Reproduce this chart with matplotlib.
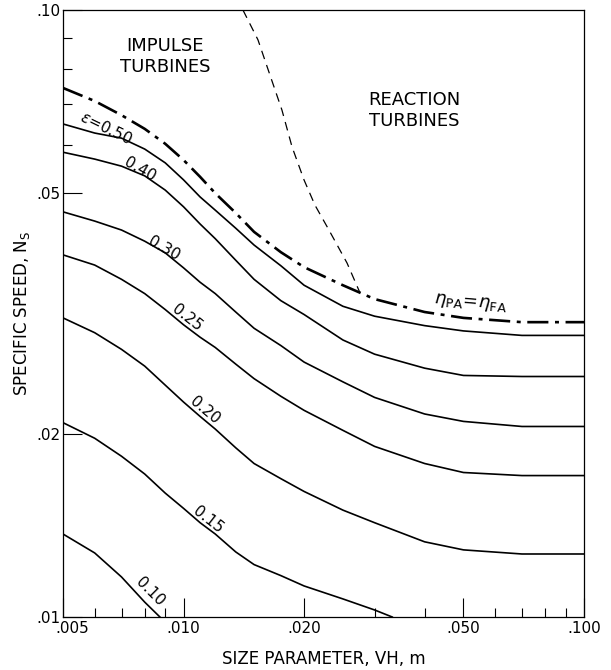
import matplotlib
matplotlib.use("Agg")
import matplotlib.pyplot as plt
from matplotlib.ticker import FixedLocator, NullFormatter
from matplotlib.transforms import ScaledTranslation

# size parameter VH (m) where the curves were read
vh = [0.005, 0.006, 0.007, 0.008, 0.009, 0.010, 0.011, 0.012, 0.0135, 0.015,
      0.0175, 0.020, 0.025, 0.030, 0.040, 0.050, 0.070, 0.100]

# specific speed Ns along each curve
ns_limit = [0.0744, 0.0708, 0.0671, 0.0637, 0.0602, 0.0566, 0.0531, 0.0499, 0.0463, 0.0431,
            0.0399, 0.0377, 0.0352, 0.0334, 0.0318, 0.0311, 0.0306, 0.0306]
ns_050 = [0.0649, 0.0627, 0.0615, 0.0590, 0.0560, 0.0525, 0.0492, 0.0468, 0.0437, 0.0410,
          0.0379, 0.0352, 0.0325, 0.0313, 0.0302, 0.0296, 0.0291, 0.0291]
ns_040 = [0.0583, 0.0568, 0.0553, 0.0533, 0.0505, 0.0474, 0.0444, 0.0420, 0.0387, 0.0360,
          0.0332, 0.0315, 0.0286, 0.0271, 0.0257, 0.0250, 0.0249, 0.0249]
ns_030 = [0.0465, 0.0449, 0.0434, 0.0416, 0.0398, 0.0376, 0.0356, 0.0341, 0.0318, 0.0299,
          0.0280, 0.0263, 0.0244, 0.0230, 0.0216, 0.0210, 0.0206, 0.0206]
ns_025 = [0.0395, 0.0380, 0.0360, 0.0341, 0.0321, 0.0303, 0.0289, 0.0278, 0.0261, 0.0247,
          0.0231, 0.0219, 0.0203, 0.0191, 0.0179, 0.0173, 0.0171, 0.0171]
ns_020 = [0.0311, 0.0294, 0.0276, 0.0259, 0.0241, 0.0226, 0.0214, 0.0204, 0.0190, 0.0179,
          0.0169, 0.0161, 0.0150, 0.0143, 0.0133, 0.0129, 0.0127, 0.0127]

# the two lowest curves run into the x axis
vh_015 = [0.005, 0.006, 0.007, 0.008, 0.009, 0.010, 0.011, 0.012, 0.0135, 0.015,
          0.0175, 0.020, 0.025, 0.030, 0.0332]
ns_015 = [0.0209, 0.0197, 0.0184, 0.0172, 0.0160, 0.0151, 0.0143, 0.0137, 0.0128, 0.0122,
          0.0117, 0.01125, 0.01071, 0.01027, 0.0100]
vh_010 = [0.005, 0.006, 0.007, 0.008, 0.00873]
ns_010 = [0.0137, 0.01275, 0.01164, 0.01058, 0.0100]

# impulse / reaction boundary (dashed)
vh_bound = [0.01407, 0.01534, 0.01644, 0.01761, 0.01866, 0.01999, 0.02129, 0.02294, 0.02560, 0.02758]
ns_bound = [0.1000, 0.0893, 0.0781, 0.0684, 0.0595, 0.0525, 0.0477, 0.0437, 0.0383, 0.0342]

xticks = [0.005, 0.010, 0.020, 0.050, 0.100]
xticklabels = ['.005', '.010', '.020', '.050', '.100']
xminor = [0.006, 0.007, 0.008, 0.009, 0.03, 0.04, 0.06, 0.07, 0.08, 0.09]
yticks = [0.01, 0.02, 0.05, 0.10]
yticklabels = ['.01', '.02', '.05', '.10']
yminor = [0.06, 0.07, 0.08, 0.09]

fig = plt.figure(figsize=(6.11, 6.70), dpi=100)
ax = fig.add_axes([0.1031, 0.0791, 0.8527, 0.9060])

ax.plot(vh, ns_limit, color='black', lw=1.9, linestyle=(0, (8, 2.5, 1.5, 2.5)))
for ys in [ns_050, ns_040, ns_030, ns_025, ns_020]:
    ax.plot(vh, ys, color='black', lw=1.2)
ax.plot(vh_015, ns_015, color='black', lw=1.2)
ax.plot(vh_010, ns_010, color='black', lw=1.2)
ax.plot(vh_bound, ns_bound, color='black', lw=0.9, linestyle=(0, (7, 5)))

ax.set_xscale('log')
ax.set_yscale('log')
ax.set_xlim(0.005, 0.100)
ax.set_ylim(0.01, 0.10)

ax.xaxis.set_major_locator(FixedLocator(xticks))
ax.xaxis.set_minor_locator(FixedLocator(xminor))
ax.set_xticklabels(xticklabels)
ax.xaxis.set_minor_formatter(NullFormatter())
ax.yaxis.set_major_locator(FixedLocator(yticks))
ax.yaxis.set_minor_locator(FixedLocator(yminor))
ax.set_yticklabels(yticklabels)
ax.yaxis.set_minor_formatter(NullFormatter())

ax.tick_params(which='major', direction='in', length=14, width=0.8, labelsize=11, pad=3)
ax.tick_params(which='minor', direction='in', length=6.5, width=0.8)
ax.tick_params(axis='y', which='major', pad=2)
for s in ax.spines.values():
    s.set_linewidth(0.9)

# first x label sits to the right of the corner, like the original
first = ax.get_xticklabels()[0]
first.set_ha('left')
first.set_transform(first.get_transform() + ScaledTranslation(-0.08, 0, fig.dpi_scale_trans))

ax.set_xlabel('SIZE PARAMETER, VH, m', fontsize=12, labelpad=10)
ax.set_ylabel(r'SPECIFIC SPEED, N$_\mathregular{S}$', fontsize=12, labelpad=3)

# curve labels
lbl = dict(fontsize=11, ha='center', va='center', rotation_mode='anchor')
ax.text(0.0064, 0.0639, r'$\epsilon$=0.50', rotation=-26, **lbl)
ax.text(0.00778, 0.0545, '0.40', rotation=-30, **lbl)
ax.text(0.00894, 0.0405, '0.30', rotation=-30, **lbl)
ax.text(0.0102, 0.0311, '0.25', rotation=-38, **lbl)
ax.text(0.0113, 0.0219, '0.20', rotation=-40, **lbl)
ax.text(0.0115, 0.01445, '0.15', rotation=-38, **lbl)
ax.text(0.00825, 0.0110, '0.10', rotation=-45, **lbl)
ax.text(0.0519, 0.0329, r'$\eta_\mathregular{PA}\!=\!\eta_\mathregular{FA}$',
        fontsize=13, ha='center', va='center', rotation=-5, rotation_mode='anchor')

ax.text(0.00899, 0.0837, 'IMPULSE\nTURBINES', fontsize=13, ha='center', va='center', linespacing=1.2)
ax.text(0.0290, 0.0684, 'REACTION\nTURBINES', fontsize=13, ha='left', va='center', linespacing=1.2)

fig.savefig('out.png', dpi=100)
